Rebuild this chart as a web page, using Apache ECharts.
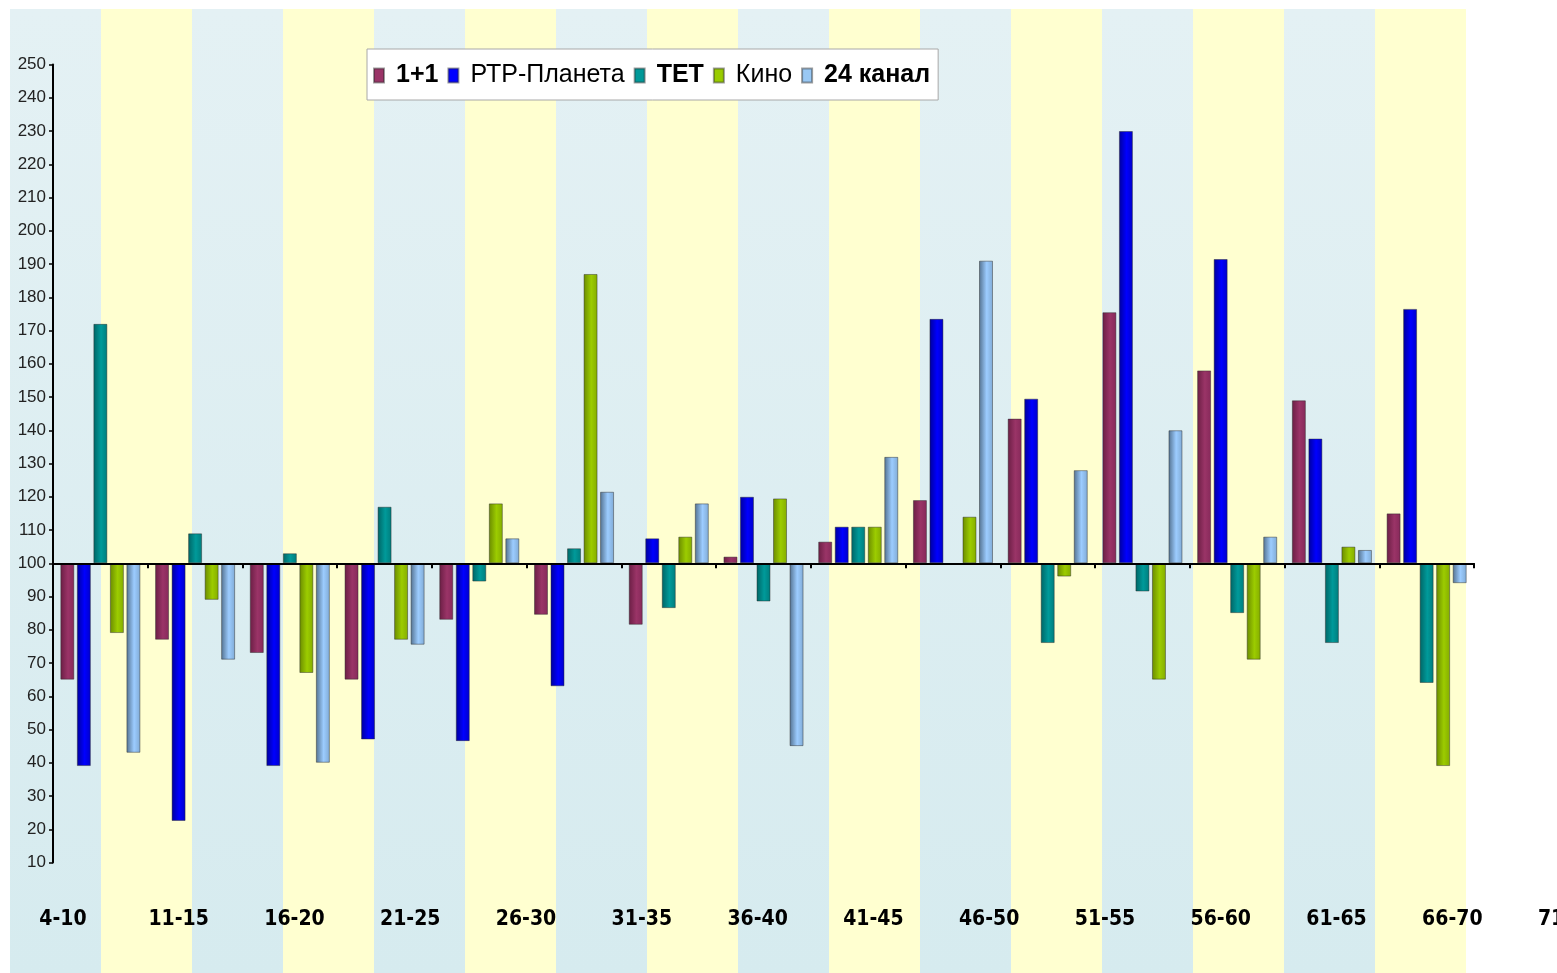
<!DOCTYPE html>
<html>
<head>
<meta charset="utf-8">
<script src="https://cdn.jsdelivr.net/npm/echarts@6/dist/echarts.min.js"></script>
<style>
html,body{margin:0;padding:0;background:#fff;}
#chart{width:1557px;height:973px;}
</style>
</head>
<body>
<div id="chart"></div>
<script>
// ---- data ----
const seriesNames = ['1+1', 'РТР-Планета', 'ТЕТ', 'Кино', '24 канал'];
const boldNames = ['1+1', 'ТЕТ', '24 канал'];
const ageLabels = ['4-10','11-15','16-20','21-25','26-30','31-35','36-40','41-45','46-50','51-55','56-60','61-65','66-70','71-75'];
const groupNames = ['g1','g2','g3','g4','g5','g6','g7','g8','g9','g10','g11','g12','g13','g14','g15'];
const bandCats = ['b1','b2','b3','b4','b5','b6','b7','b8','b9','b10','b11','b12','b13','b14','b15','b16'];
const yTicks = { min: 10, max: 250, step: 10, base: 100 };

const v11   = [65, 77, 73, 65, 83, 84.5, 81.5, 102, 106.5, 119, 143.5, 175.5, 158, 149, 115];
const vRtr  = [39, 22.5, 39, 47, 46.5, 63, 107.5, 120, 111, 173.5, 149.5, 230, 191.5, 137.5, 176.5];
const vTet  = [172, 109, 103, 117, 94.5, 104.5, 86.5, 88.5, 111, null, 76, 91.5, 85, 76, 64];
const vKino = [79, 89, 67, 77, 118, 187, 108, 119.5, 111, 114, 96, 65, 71, 105, 39];
const v24   = [43, 71, 40, 75.5, 107.5, 121.5, 118, 45, 132, 191, 128, 140, 108, 104, 94];
const allValues = [v11, vRtr, vTet, vKino, v24];

// ---- styles ----
const G = (a, b, c) => new echarts.graphic.LinearGradient(0, 0, 1, 0, [
  { offset: 0, color: a }, { offset: 0.55, color: b }, { offset: 1, color: c }
]);
const fills = [
  G('#6a1e44', '#9a3467', '#86295a'),
  G('#00009a', '#0000ff', '#0000c8'),
  G('#006464', '#009a9a', '#007c7c'),
  G('#6a8a00', '#9ccc00', '#84ac00'),
  G('#52708e', '#9cccff', '#80aad4')
];
const legendColors = ['#9a3467', '#0000ff', '#009999', '#99cc00', '#99c8f4'];
const blueBand = new echarts.graphic.LinearGradient(0, 0, 0, 1, [
  { offset: 0, color: '#e4f1f4' }, { offset: 1, color: '#d6ebef' }
]);
const yellowBand = '#ffffd0';
const narrowFont = '"Liberation Sans Narrow", "Liberation Sans", Arial, sans-serif';

const chart = echarts.init(document.getElementById('chart'), null, { renderer: 'canvas' });

const series = allValues.map((vals, i) => ({
  name: seriesNames[i],
  type: 'bar',
  xAxisIndex: 1,
  yAxisIndex: 1,
  barWidth: 14,
  barGap: '18%',
  itemStyle: { color: fills[i], borderColor: 'rgba(40,40,40,0.45)', borderWidth: 1 },
  data: vals.map(v => v === null ? '-' : v - yTicks.base),
  z: 3
}));

const option = {
  animation: false,
  backgroundColor: '#ffffff',
  grid: [
    { left: 10, top: 9, width: 1456, bottom: 0, outerBoundsMode: 'none' },
    { left: 53, top: 64.5, width: 1421, height: 798, outerBoundsMode: 'none' },
    { left: 5, top: 894, width: 1621, height: 10, outerBoundsMode: 'none' }
  ],
  xAxis: [
    {
      gridIndex: 0, type: 'category', data: bandCats,
      axisLine: { show: false }, axisTick: { show: false }, axisLabel: { show: false },
      splitArea: { show: true, areaStyle: { color: [blueBand, yellowBand] } }
    },
    {
      gridIndex: 1, type: 'category', data: groupNames,
      axisLine: { onZero: true, lineStyle: { color: '#000', width: 2 } },
      axisTick: { show: true, length: 5, lineStyle: { color: '#000', width: 2 } },
      axisLabel: { show: false },
      z: 5
    },
    {
      gridIndex: 2, type: 'category', data: ageLabels,
      axisLine: { show: false }, axisTick: { show: false },
      axisLabel: {
        show: true, interval: 0, margin: 5, color: '#000',
        fontFamily: '"DejaVu Sans Condensed", "DejaVu Sans", sans-serif',
        fontWeight: 'bold', fontSize: 21
      }
    }
  ],
  yAxis: [
    { gridIndex: 0, type: 'value', show: false, splitLine: { show: false } },
    {
      gridIndex: 1, type: 'value',
      min: yTicks.min - yTicks.base, max: yTicks.max - yTicks.base, interval: yTicks.step,
      axisLine: { show: true, lineStyle: { color: '#000', width: 2 } },
      axisTick: { show: true, length: 4, lineStyle: { color: '#000', width: 1.5 } },
      splitLine: { show: false },
      axisLabel: {
        margin: 7, color: '#222',
        fontFamily: narrowFont,
        fontSize: 17,
        formatter: v => String(v + yTicks.base)
      },
      z: 5
    },
    { gridIndex: 2, type: 'value', show: false }
  ],
  legend: {
    left: 367, top: 49,
    orient: 'horizontal',
    backgroundColor: '#ffffff',
    borderColor: '#a8a8a8', borderWidth: 1,
    padding: [14, 8, 12, 6],
    itemWidth: 10, itemHeight: 14, itemGap: 9,
    icon: 'rect',
    data: seriesNames.map((n, i) => ({ name: n, itemStyle: { color: legendColors[i] } })),
    formatter: n => boldNames.includes(n) ? '{b|' + n + '}' : '{n|' + n + '}',
    textStyle: {
      color: '#000',
      fontFamily: narrowFont,
      fontSize: 25,
      rich: {
        b: { fontWeight: 'bold', fontSize: 25, padding: [0, 0, 0, 7], color: '#000', fontFamily: narrowFont },
        n: { fontWeight: 'normal', fontSize: 25, padding: [0, 0, 0, 7], color: '#000', fontFamily: narrowFont }
      }
    }
  },
  series: series
};
chart.setOption(option);
</script>
</body>
</html>
